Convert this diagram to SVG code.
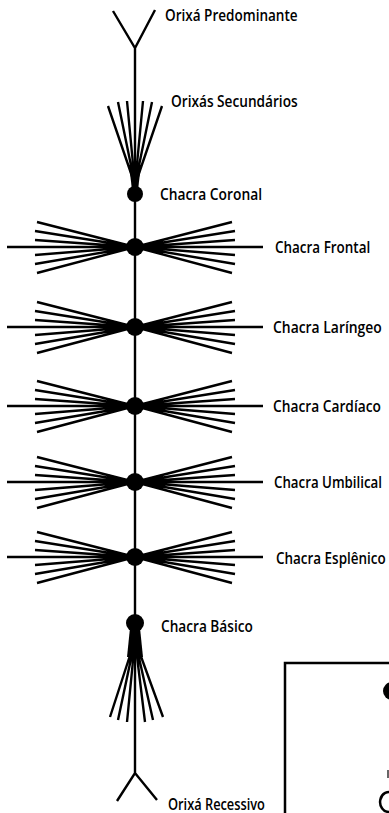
<svg xmlns="http://www.w3.org/2000/svg" xmlns:xlink="http://www.w3.org/1999/xlink" width="389" height="813" viewBox="0 0 389 813">
<style>
.ln{stroke:#000;stroke-width:2.4;fill:none;stroke-linecap:butt}
.dot{fill:#000}
.lbl{font-family:"Open Sans","Liberation Sans",sans-serif;font-weight:600;font-size:16.5px;fill:#000}
</style>
<defs>
<g id="hfan">
<path class="ln" d="M0 0L-98 -25M0 0L-100 -16M0 0L-100 -7M0 0L-100 8M0 0L-100 17M0 0L-98 26M0 0L97 -25M0 0L100 -16M0 0L100 -7M0 0L100 8M0 0L100 17M0 0L97 26M-128 0L128 0"/>
<polygon class="dot" points="0,0 -28,-8 -28,8"/>
<polygon class="dot" points="0,0 28,-8 28,8"/>
<circle class="dot" r="9"/>
</g>
</defs>
<rect width="389" height="813" fill="#fff"/>
<g id="connectors">
<path class="ln" d="M135 48L135 773M113 11L135 48L155 10M117 801L135 773L157 800"/>
</g>
<g id="orixa-predominante">
<text class="lbl" transform="translate(165 21) scale(0.85 1)" textLength="156" lengthAdjust="spacingAndGlyphs">Orixá Predominante</text>
</g>
<g id="orixas-secundarios">
<path class="ln" d="M135 185L108 106M135 185L118 102M135 185L127 101M135 185L143 101M135 185L152 102M135 185L162 106"/>
<polygon class="dot" points="129,165 141,165 138,190 132,190"/>
<text class="lbl" transform="translate(171 107) scale(0.85 1)" textLength="149" lengthAdjust="spacingAndGlyphs">Orixás Secundários</text>
</g>
<g id="chacra-coronal">
<circle class="dot" cx="135" cy="194" r="8"/>
<text class="lbl" transform="translate(160 200) scale(0.85 1)" textLength="120" lengthAdjust="spacingAndGlyphs">Chacra Coronal</text>
</g>
<g id="chacra-frontal">
<use xlink:href="#hfan" x="135" y="247"/>
<text class="lbl" transform="translate(275 253) scale(0.85 1)" textLength="112" lengthAdjust="spacingAndGlyphs">Chacra Frontal</text>
</g>
<g id="chacra-laringeo">
<use xlink:href="#hfan" x="135" y="327"/>
<text class="lbl" transform="translate(273 333) scale(0.85 1)" textLength="128" lengthAdjust="spacingAndGlyphs">Chacra Laríngeo</text>
</g>
<g id="chacra-cardiaco">
<use xlink:href="#hfan" x="135" y="406"/>
<text class="lbl" transform="translate(273 412) scale(0.85 1)" textLength="127" lengthAdjust="spacingAndGlyphs">Chacra Cardíaco</text>
</g>
<g id="chacra-umbilical">
<use xlink:href="#hfan" x="135" y="482"/>
<text class="lbl" transform="translate(274 488) scale(0.85 1)" textLength="127" lengthAdjust="spacingAndGlyphs">Chacra Umbilical</text>
</g>
<g id="chacra-esplenico">
<use xlink:href="#hfan" x="135" y="557"/>
<text class="lbl" transform="translate(276 564) scale(0.85 1)" textLength="129" lengthAdjust="spacingAndGlyphs">Chacra Esplênico</text>
</g>
<g id="chacra-basico">
<circle class="dot" cx="135" cy="623" r="9"/>
<polygon class="dot" points="130,628 140,628 143,657 127,657"/>
<path class="ln" d="M135 640L110 717M135 640L118 720M135 640L127 722M135 640L145 722M135 640L153 720M135 640L163 717"/>
<text class="lbl" transform="translate(161 632) scale(0.85 1)" textLength="108" lengthAdjust="spacingAndGlyphs">Chacra Básico</text>
</g>
<g id="orixa-recessivo">
<text class="lbl" transform="translate(168 810) scale(0.85 1)" textLength="114" lengthAdjust="spacingAndGlyphs">Orixá Recessivo</text>
</g>
<g id="box">
<path d="M285 813L285 663L392 663" fill="none" stroke="#000" stroke-width="2.5"/>
<circle class="dot" cx="392" cy="691" r="9"/>
<line x1="388" y1="770" x2="388" y2="778" stroke="#000" stroke-width="1.2"/>
<path d="M393 793A9 10 0 1 0 389 812" fill="none" stroke="#000" stroke-width="2.5"/>
</g>
</svg>
